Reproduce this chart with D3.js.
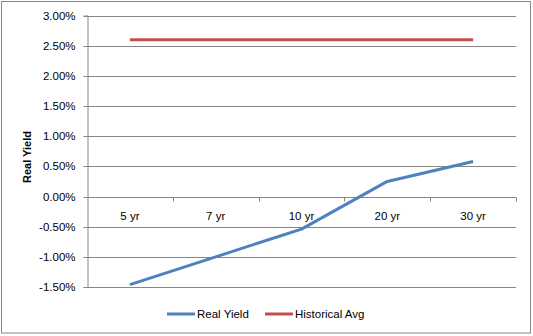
<!DOCTYPE html>
<html>
<head>
<meta charset="utf-8">
<script src="https://cdn.jsdelivr.net/npm/d3@7"></script>
<style>
  html, body { margin: 0; padding: 0; background: #fff; }
  svg { display: block; font-family: "Open Sans", "Liberation Sans", sans-serif; }
</style>
</head>
<body>
<svg id="chart" width="533" height="336"></svg>
<script>
// Real yield curve vs. its historical average
const categories = ["5 yr", "7 yr", "10 yr", "20 yr", "30 yr"];
const realYield = [-1.46, -1.00, -0.54, 0.25, 0.58];
const historicalAvg = [2.60, 2.60, 2.60, 2.60, 2.60];
const yTicks = [-1.5, -1.0, -0.5, 0.0, 0.5, 1.0, 1.5, 2.0, 2.5, 3.0];

const svg = d3.select("#chart");
const W = 533, H = 336;
const margin = { left: 87, right: 17, top: 15.5, bottom: 49 };

// outer frame
svg.append("rect")
  .attr("x", 1.5).attr("y", 1.5)
  .attr("width", W - 4).attr("height", H - 4.5)
  .attr("fill", "#fff").attr("stroke", "#868686").attr("stroke-width", 1);

const x = d3.scaleBand()
  .domain(categories)
  .range([margin.left, W - margin.right]);

const y = d3.scaleLinear()
  .domain([-1.5, 3.0])
  .range([H - margin.bottom, margin.top]);

const grid = "#868686";

// horizontal gridlines
svg.append("g")
  .selectAll("line")
  .data(yTicks)
  .join("line")
  .attr("x1", margin.left).attr("x2", W - margin.right)
  .attr("y1", d => Math.round(y(d)) + 0.5).attr("y2", d => Math.round(y(d)) + 0.5)
  .attr("stroke", grid).attr("stroke-width", 1);

// value axis
const yAxis = svg.append("g")
  .attr("transform", `translate(${margin.left + 0.5},0)`)
  .call(d3.axisLeft(y).tickValues(yTicks).tickSize(4).tickPadding(8)
    .tickFormat(d => d.toFixed(2) + "%"));
yAxis.select(".domain").attr("stroke", grid);
yAxis.selectAll(".tick line").attr("stroke", grid)
  .attr("transform", function() { return null; });
yAxis.selectAll(".tick").attr("transform", d => `translate(0,${Math.round(y(d)) + 0.5})`);
yAxis.selectAll("text").attr("font-size", 12).attr("fill", "#000")
  .attr("font-family", "'Liberation Sans', sans-serif").attr("font-size", 11.5);

// category axis along zero
const xAxis = svg.append("g")
  .attr("transform", `translate(0,${Math.round(y(0)) + 0.5})`);
xAxis.append("line")
  .attr("x1", margin.left).attr("x2", W - margin.right)
  .attr("stroke", grid);
const boundaries = categories.map(c => x(c) + x.bandwidth());
xAxis.selectAll(".tk")
  .data(boundaries)
  .join("line")
  .attr("class", "tk")
  .attr("x1", d => Math.round(d) + 0.5).attr("x2", d => Math.round(d) + 0.5)
  .attr("y1", 0).attr("y2", 4)
  .attr("stroke", grid);
xAxis.selectAll("text")
  .data(categories)
  .join("text")
  .attr("x", d => x(d) + x.bandwidth() / 2)
  .attr("y", 22)
  .attr("text-anchor", "middle")
  .attr("font-size", 11.5)
  .attr("font-family", "'Liberation Sans', sans-serif")
  .attr("fill", "#000")
  .text(d => d);

// axis title
svg.append("text")
  .attr("transform", `translate(31,157) rotate(-90)`)
  .attr("text-anchor", "middle")
  .attr("font-size", 11)
  .attr("font-weight", "bold")
  .attr("font-family", "'Liberation Sans', sans-serif")
  .text("Real Yield");

const cx = d => x(d) + x.bandwidth() / 2;
const line = d3.line()
  .x((d, i) => cx(categories[i]))
  .y(d => y(d));

svg.append("path")
  .datum(historicalAvg)
  .attr("d", line)
  .attr("fill", "none")
  .attr("stroke", "#C0504D")
  .attr("stroke-width", 3);

svg.append("path")
  .datum(realYield)
  .attr("d", line)
  .attr("fill", "none")
  .attr("stroke", "#4F81BD")
  .attr("stroke-width", 3)
  .attr("stroke-linejoin", "round");

// legend
const legend = [
  { name: "Real Yield", color: "#4F81BD", x: 167 },
  { name: "Historical Avg", color: "#C0504D", x: 265 }
];
const lg = svg.append("g").selectAll("g").data(legend).join("g")
  .attr("transform", d => `translate(${d.x},314)`);
lg.append("line")
  .attr("x1", 0).attr("x2", 28)
  .attr("stroke", d => d.color).attr("stroke-width", 3);
lg.append("text")
  .attr("x", 30).attr("y", 4)
  .attr("font-size", 11.5)
  .attr("font-family", "'Liberation Sans', sans-serif")
  .text(d => d.name);
</script>
</body>
</html>
